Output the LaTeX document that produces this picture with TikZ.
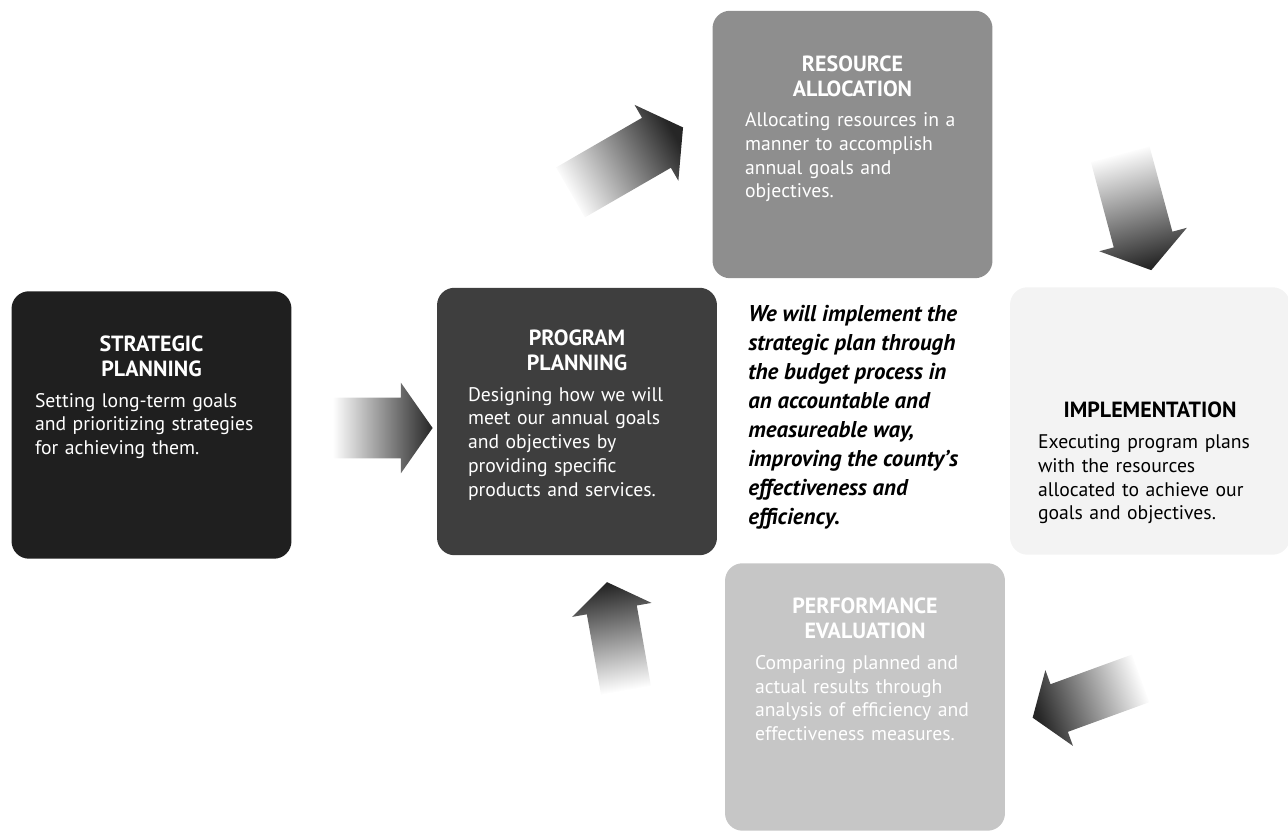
\documentclass[tikz,border=0pt]{standalone}
\usepackage{fontspec}
\setmainfont{PT Sans}
\usetikzlibrary{positioning, shapes.arrows}

\definecolor{stratfill}{HTML}{1F1F1F}
\definecolor{progfill}{HTML}{3E3E3E}
\definecolor{resfill}{HTML}{8E8E8E}
\definecolor{implfill}{HTML}{F3F3F3}
\definecolor{perffill}{HTML}{C6C6C6}

% 方塊標題 (置中, 粗體)
\newcommand{\boxhead}[1]{{\centering\bfseries\fontsize{12.5}{14}\selectfont #1\par}\vspace{4pt}}

\begin{document}
\begin{tikzpicture}[
    x=0.02cm, y=0.02cm,
    box/.style={rounded corners=0.35cm, minimum width=5.6cm, minimum height=5.35cm, inner sep=0pt},
    boxtext/.style={anchor=north, inner sep=0pt, align=left, font=\fontsize{11.2}{13.5}\selectfont},
    blockarrow/.style={single arrow, minimum height=#1, inner xsep=0pt, inner ysep=0.6cm,
        top color=white, bottom color=black!85,
        single arrow head extend=0.3cm, single arrow tip angle=110},
    blockarrow/.default=2cm
]

    \useasboundingbox (0,0) rectangle (1288,837);

    % --- 1. 五個方塊 ---
    \node[box, fill=stratfill] (strat) at (151.5,412) {};
    \node[box, fill=progfill]  (prog)  at (577,415.5) {};
    \node[box, fill=resfill]   (res)   at (852.5,692.5) {};
    \node[box, fill=implfill]  (impl)  at (1150,416) {};
    \node[box, fill=perffill]  (perf)  at (865,140) {};

    % --- 2. 方塊內文字 ---
    \node[boxtext, text width=4.66cm, text=white] (strattxt) at ([yshift=-0.9cm]strat.north)
        {\boxhead{STRATEGIC\\PLANNING}Setting long-term goals\\and prioritizing strategies\\for achieving them.};
    \node[boxtext, text width=4.36cm, text=white] (progtxt) at ([yshift=-0.85cm]prog.north)
        {\boxhead{PROGRAM\\PLANNING}Designing how we will\\meet our annual goals\\and objectives by\\providing specific\\products and services.};
    \node[boxtext, text width=4.3cm, text=white] (restxt) at ([yshift=-0.9cm]res.north)
        {\boxhead{RESOURCE\\ALLOCATION}Allocating resources in a\\manner to accomplish\\annual goals and\\objectives.};
    \node[boxtext, text width=4.48cm, text=black] (impltxt) at ([yshift=-2.3cm]impl.north)
        {\boxhead{IMPLEMENTATION}Executing program plans\\with the resources\\allocated to achieve our\\goals and objectives.};
    \node[boxtext, text width=4.4cm, text=white] (perftxt) at ([yshift=-0.7cm]perf.north)
        {\boxhead{PERFORMANCE\\EVALUATION}Comparing planned and\\actual results through\\analysis of efficiency and\\effectiveness measures.};

    % 中間的斜體說明
    \node[anchor=north west, inner sep=0pt, align=left,
          font=\bfseries\itshape\fontsize{13}{16.5}\selectfont] (motto) at (748,532)
        {We will implement the\\strategic plan through\\the budget process in\\an accountable and\\measureable way,\\improving the county’s\\effectiveness and\\efficiency.};

    % --- 3. 漸層箭頭 (頭深, 尾淡) ---
    \node[blockarrow=2cm, shading angle=90] (a1) at (372,409) {};
    \node[blockarrow=2.6cm, inner ysep=0.57cm, rotate=30, shading angle=120] (a2) at (618,672) {};
    \node[blockarrow=2.4cm, rotate=-75, shading angle=15] (a3) at (1133,635) {};
    \node[blockarrow=2.3cm, inner ysep=0.5cm, rotate=200, shading angle=290] (a4) at (1095,142) {};
    \node[blockarrow=2.2cm, inner ysep=0.5cm, rotate=100, shading angle=190] (a5) at (618,192) {};

\end{tikzpicture}
\end{document}
